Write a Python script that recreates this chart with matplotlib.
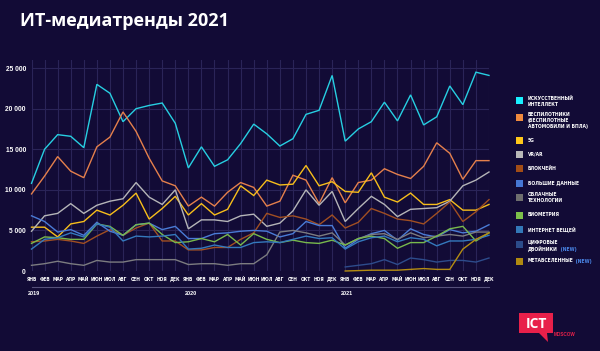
import numpy as np
import matplotlib
matplotlib.use("Agg")
import matplotlib.pyplot as plt
from matplotlib.patches import Rectangle, Polygon

# ---- data (mentions per month, Jan 2019 .. Dec 2021) ----
months = ["ЯНВ", "ФЕВ", "МАР", "АПР", "МАЙ", "ИЮН",
          "ИЮЛ", "АВГ", "СЕН", "ОКТ", "НОЯ", "ДЕК"]
years = ["2019", "2020", "2021"]
yticks = [0, 5000, 10000, 15000, 20000, 25000]
nan = np.nan

ai = [10800, 15000, 16800, 16600, 15200, 23000, 21900, 18400, 20000, 20400, 20700, 18200,
      12700, 15300, 12900, 13700, 15700, 18100, 16900, 15400, 16300, 19300, 19800, 24100,
      16000, 17500, 18400, 20800, 18500, 21700, 18000, 19000, 22800, 20500, 24500, 24100]
drones = [9500, 11700, 14100, 12300, 11500, 15300, 16500, 19600, 17200, 13900, 11100, 10500,
          8000, 9100, 8000, 9700, 10900, 10300, 8000, 8600, 11800, 11200, 8300, 11500,
          8400, 10900, 11200, 12600, 11900, 11400, 12900, 15800, 14500, 11300, 13600, 13600]
g5 = [5400, 5400, 4200, 5800, 6100, 7500, 6900, 8100, 9600, 6400, 7700, 9200,
      6900, 8300, 6900, 7600, 10500, 9300, 11200, 10600, 10700, 13000, 10500, 11000,
      9800, 9700, 12100, 9100, 8500, 9600, 8200, 8200, 8800, 7500, 7500, 8200]
vrar = [4900, 6800, 7100, 8300, 7100, 8100, 8600, 8900, 10900, 9100, 8200, 10000,
        5200, 6300, 6300, 6100, 6800, 7000, 5500, 5900, 7400, 10000, 8100, 9800,
        6100, 7700, 9200, 8200, 6700, 7600, 7700, 7800, 8600, 10500, 11200, 12200]
blockchain = [3600, 3700, 3900, 3700, 3400, 4300, 5100, 4400, 5300, 5900, 3700, 3700,
              2600, 2600, 2900, 2900, 3900, 4700, 7100, 6600, 6800, 6400, 5700, 6900,
              5300, 6000, 7700, 7100, 6400, 6200, 5800, 7100, 8500, 6100, 7300, 8800]
bigdata = [6800, 6100, 4800, 5100, 4400, 6000, 4900, 4400, 5700, 5900, 5100, 5500,
           4000, 4000, 4600, 4700, 4900, 5000, 4900, 4200, 4600, 6100, 5600, 5600,
           2800, 3900, 4600, 5000, 3800, 5200, 4500, 4200, 5100, 4700, 4900, 5700]
cloud = [700, 900, 1200, 900, 700, 1300, 1100, 1100, 1400, 1400, 1400, 1400,
         800, 900, 900, 700, 900, 900, 2000, 4800, 5000, 4700, 4300, 4700,
         3200, 4000, 4500, 4600, 3900, 4700, 4100, 4300, 4500, 4300, 4800, 4800]
biometrics = [3400, 4200, 4100, 3900, 3900, 5800, 5500, 4400, 5700, 5900, 4500, 3500,
              3600, 4000, 3600, 4500, 3200, 4600, 3900, 3500, 3800, 3500, 3400, 3800,
              3200, 4000, 4300, 4000, 2800, 3500, 3500, 4300, 5200, 5500, 3700, 4700]
iot = [2700, 3900, 4100, 4700, 4200, 5800, 5400, 3700, 4300, 4200, 4300, 4500,
       2700, 2800, 3200, 2900, 2900, 3500, 3600, 3500, 3900, 4300, 4000, 4100,
       2700, 3600, 4100, 4300, 3600, 4100, 3900, 3100, 3700, 3700, 3900, 4400]
twins = [nan] * 24 + [500, 700, 900, 1400, 800, 1600, 1400, 1100, 1300, 1300, 1100, 1600]
metaverse = [nan] * 24 + [0, 50, 100, 100, 100, 200, 300, 200, 200, 2700, 3900, 4700]

series = [ai, drones, g5, vrar, blockchain, bigdata, cloud, biometrics, iot, twins, metaverse]
labels = ["ИСКУССТВЕННЫЙ\nИНТЕЛЛЕКТ",
          "БЕСПИЛОТНИКИ\n(БЕСПИЛОТНЫЕ\nАВТОМОБИЛИ И БПЛА)",
          "5G", "VR/AR", "БЛОКЧЕЙН", "БОЛЬШИЕ ДАННЫЕ",
          "ОБЛАЧНЫЕ\nТЕХНОЛОГИИ", "БИОМЕТРИЯ", "ИНТЕРНЕТ ВЕЩЕЙ",
          "ЦИФРОВЫЕ\nДВОЙНИКИ", "МЕТАВСЕЛЕННЫЕ"]
is_new = [False] * 9 + [True, True]
line_colors = ["#27cfe2", "#e5804c", "#f7be1b", "#b5b5b8", "#a14f22", "#4a7bd6",
               "#7c7c80", "#78b94c", "#3479bd", "#2d4c8c", "#b58d12"]
box_colors = ["#19f0ff", "#f08a3e", "#ffc81a", "#b8b8b8", "#a24d16", "#4677d4",
              "#6e6e6e", "#7cc04a", "#3378b8", "#2c4c8a", "#b08a10"]

BG = "#120b36"
GRID = "#2a2458"
FAM = ["DejaVu Sans", "Liberation Sans"]

fig = plt.figure(figsize=(6.0, 3.51), dpi=100, facecolor=BG)
W, H = 600, 351

# main axes placed in pixel terms
x0, x1, ytop, ybot = 31.5, 489, 60, 271
ax = fig.add_axes([x0 / W, (H - ybot) / H, (x1 - x0) / W, (ybot - ytop) / H])
ax.set_facecolor(BG)

x = np.arange(36)
for vals, c in zip(series, line_colors):
    ax.plot(x, vals, color=c, lw=1.0, solid_joinstyle="miter", clip_on=False, zorder=3)

ax.set_xlim(0, 35)
ax.set_ylim(0, 26000)
ax.set_xticks(x)
ax.set_xticklabels(months * 3)
ax.set_yticks(yticks)
ax.set_yticklabels(["0" if v == 0 else f"{v // 1000} 000" for v in yticks])
ax.grid(True, color=GRID, lw=0.8, zorder=0)
for s in ax.spines.values():
    s.set_visible(False)
ax.tick_params(length=0, colors="white")
for t in ax.get_xticklabels():
    t.set_fontsize(3.5)
    t.set_fontweight("bold")
    t.set_fontstretch("condensed")
    t.set_family(FAM)
for t in ax.get_yticklabels():
    t.set_fontsize(4.8)
    t.set_fontweight("bold")
    t.set_family(["Liberation Sans", "DejaVu Sans"])
ax.tick_params(axis="x", pad=4)
ax.tick_params(axis="y", pad=4)

# year separator and labels
xt = ax.get_xaxis_transform()
ax.plot([0, 35], [-0.076, -0.076], transform=xt, color="#55507a", lw=0.8, clip_on=False)
for i, yr in enumerate(years):
    ax.text(12 * i - 0.3, -0.105, yr, transform=xt, color="white", fontsize=4,
            fontweight="bold", va="center", ha="left", family=["Liberation Sans", "DejaVu Sans"])

# overlay for title, legend, logo
ov = fig.add_axes([0, 0, 1, 1])
ov.set_xlim(0, W)
ov.set_ylim(H, 0)
ov.axis("off")
ov.patch.set_alpha(0)

ov.text(20, 21, "ИТ-медиатренды 2021", color="white", fontsize=13, fontweight="bold",
        va="center", ha="left", family=["Open Sans", "DejaVu Sans"])

leg_y = [100.5, 117, 140, 154, 168, 183, 197, 215, 229, 244, 261]
for yy, lab, c, new in zip(leg_y, labels, box_colors, is_new):
    ov.add_patch(Rectangle((516, yy - 3.5), 7, 7, color=c, lw=0))
    if "\n" in lab:
        ty, va = yy - 4.6, "top"
    else:
        ty, va = yy, "center"
    tx = ov.text(528, ty, lab, color="white", fontsize=3.6, fontweight="bold",
                 va=va, ha="left", linespacing=1.25, fontstretch="condensed",
                 family=FAM)
    if new:
        ov.annotate(" (NEW)", xycoords=tx, xy=(1, 0), va="bottom", ha="left",
                    color="#4a86e8", fontsize=3.6, fontweight="bold",
                    fontstretch="condensed", family=FAM)

# ICT Moscow logo
ov.add_patch(Polygon([(519, 313), (553, 313), (553, 333), (547, 333), (548, 342),
                      (539, 333), (519, 333)], closed=True, color="#e8204a", lw=0))
ov.text(536, 323.5, "ICT", color="white", fontsize=10, fontweight="bold",
        ha="center", va="center", family=["Open Sans", "DejaVu Sans"])
ov.text(554, 334.5, "MOSCOW", color="#e8204a", fontsize=3.3, fontweight="bold",
        ha="left", va="center", family=["Liberation Sans", "DejaVu Sans"])

fig.savefig("out.png", dpi=100, facecolor=BG)
